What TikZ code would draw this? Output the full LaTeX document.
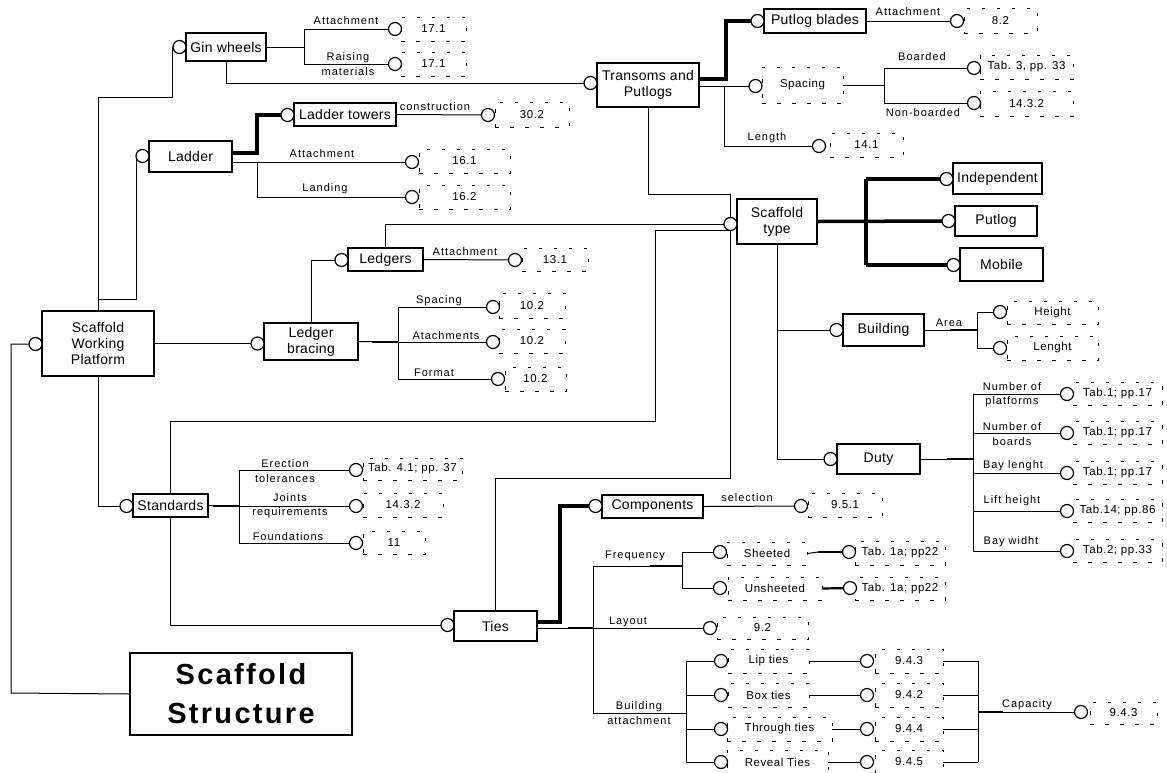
\documentclass[tikz,border=0pt]{standalone}
\usepackage{fontspec}
\setmainfont{Liberation Sans}
\newfontfamily\bxfont[LetterSpace=2]{Liberation Sans}
\newfontfamily\lbfont[LetterSpace=9]{Liberation Sans}
\newfontfamily\rffont[LetterSpace=5]{Liberation Sans}
\newfontfamily\bigfont[LetterSpace=8]{Liberation Sans}
\tikzset{
 bx/.style={draw, line width=1.2pt, inner sep=0pt, align=center, font=\bxfont\fontsize{14}{16}\selectfont},
 rf/.style={draw, line width=0.9pt, dash pattern=on 3.5pt off 11.5pt, inner sep=0pt, align=center, font=\rffont\fontsize{11.5}{14}\selectfont},
 port/.style={circle, draw, line width=1.2pt, minimum size=13pt, inner sep=0pt, fill=white},
 lb/.style={inner sep=0pt, align=center, font=\lbfont\fontsize{11}{14.5}\selectfont},
 cn/.style={line width=1pt},
 md/.style={line width=2.2pt},
 tk/.style={line width=3.5pt},
}
\begin{document}
\begin{tikzpicture}[x=1pt,y=-1pt]
\fill[white] (0,0) rectangle (1167,772);
\useasboundingbox (0,0) rectangle (1167,772);

% ---------------- solid boxes ----------------
\node[bx,minimum width=80pt,minimum height=28pt] (gin) at (226,47) {Gin wheels};
\node[bx,minimum width=102pt,minimum height=44pt] (trans) at (648,85) {Transoms and\\Putlogs};
\node[bx,minimum width=102pt,minimum height=23pt] (ltow) at (345,114.5) {Ladder towers};
\node[bx,minimum width=83pt,minimum height=31pt] (ladder) at (190.5,156.5) {Ladder};
\node[bx,minimum width=102pt,minimum height=24pt] (putb) at (815,21) {Putlog blades};
\node[bx,minimum width=80pt,minimum height=45pt] (stype) at (777,221.5) {Scaffold\\type};
\node[bx,minimum width=89pt,minimum height=31pt] (indep) at (997.5,178.5) {Independent};
\node[bx,minimum width=82pt,minimum height=30pt] (putlog) at (996,221) {Putlog};
\node[bx,minimum width=83pt,minimum height=33pt] (mobile) at (1001.5,264.5) {Mobile};
\node[bx,minimum width=81pt,minimum height=32pt] (bldg) at (883.5,330) {Building};
\node[bx,minimum width=83pt,minimum height=30pt] (duty) at (878.5,459) {Duty};
\node[bx,minimum width=75pt,minimum height=23pt] (ledgers) at (385.5,259.5) {Ledgers};
\node[bx,minimum width=94pt,minimum height=37pt] (lbrace) at (311,341.5) {Ledger\\bracing};
\node[bx,minimum width=112pt,minimum height=65pt] (swp) at (98,343.5) {Scaffold\\Working\\Platform};
\node[bx,minimum width=75pt,minimum height=23pt] (std) at (170.5,505.5) {Standards};
\node[bx,minimum width=222pt,minimum height=82pt,font=\bigfont\bfseries\fontsize{29}{39}\selectfont] (ss) at (241,694) {Scaffold\\Structure};
\node[bx,minimum width=83pt,minimum height=30pt] (ties) at (495.5,626) {Ties};
\node[bx,minimum width=101pt,minimum height=23pt] (comp) at (652.5,506.5) {Components};

% ---------------- dashed reference boxes ----------------
\node[rf,minimum width=65pt,minimum height=24pt] (r17a) at (433.5,29) {17.1};
\node[rf,minimum width=65pt,minimum height=24pt] (r17b) at (433.5,64) {17.1};
\node[rf,minimum width=74pt,minimum height=25pt] (r30) at (532,114.5) {30.2};
\node[rf,minimum width=91pt,minimum height=24pt] (r161) at (464.5,161) {16.1};
\node[rf,minimum width=91pt,minimum height=24pt] (r162) at (464.5,197) {16.2};
\node[rf,minimum width=73pt,minimum height=25pt] (r82) at (1000.5,20.5) {8.2};
\node[rf,minimum width=81pt,minimum height=36pt] (rspac) at (802.5,85) {Spacing};
\node[rf,minimum width=93pt,minimum height=24pt] (rtab3) at (1026.5,67) {Tab. 3, pp. 33};
\node[rf,minimum width=93pt,minimum height=25pt] (r1432a) at (1026.5,103.5) {14.3.2};
\node[rf,minimum width=73pt,minimum height=24pt] (r141) at (866.5,145) {14.1};
\node[rf,minimum width=66pt,minimum height=23pt] (r131) at (555,259.5) {13.1};
\node[rf,minimum width=66pt,minimum height=25pt] (r102a) at (532,305.5) {10.2};
\node[rf,minimum width=66pt,minimum height=24pt] (r102b) at (532,341) {10.2};
\node[rf,minimum width=61pt,minimum height=24pt] (r102c) at (535.5,379) {10.2};
\node[rf,minimum width=91pt,minimum height=23pt] (rheight) at (1052.5,312.5) {Height};
\node[rf,minimum width=91pt,minimum height=24pt] (rlenght) at (1052.5,348) {Lenght};
\node[rf,minimum width=89pt,minimum height=23pt] (rd1) at (1117.5,394) {Tab.1; pp.17};
\node[rf,minimum width=89pt,minimum height=23pt] (rd2) at (1117.5,433) {Tab.1; pp.17};
\node[rf,minimum width=89pt,minimum height=23pt] (rd3) at (1117.5,473) {Tab.1; pp.17};
\node[rf,minimum width=89pt,minimum height=23pt] (rd4) at (1117.5,511) {Tab.14; pp.86};
\node[rf,minimum width=89pt,minimum height=23pt] (rd5) at (1117.5,551) {Tab.2; pp.33};
\node[rf,minimum width=99pt,minimum height=22pt] (rtab41) at (412.5,469) {Tab. 4.1; pp. 37};
\node[rf,minimum width=80pt,minimum height=24pt] (r1432b) at (403,505) {14.3.2};
\node[rf,minimum width=62pt,minimum height=23pt] (r11) at (394,542.5) {11};
\node[rf,minimum width=74pt,minimum height=24pt] (r951) at (845,505) {9.5.1};
\node[rf,minimum width=80pt,minimum height=23pt] (rsheet) at (767,553.5) {Sheeted};
\node[rf,minimum width=90pt,minimum height=24pt] (rtab1a) at (900,553) {Tab. 1a; pp22};
\node[rf,minimum width=94pt,minimum height=23pt] (runsheet) at (775,588.5) {Unsheeted};
\node[rf,minimum width=90pt,minimum height=23pt] (rtab1b) at (900,588.5) {Tab. 1a; pp22};
\node[rf,minimum width=91pt,minimum height=22pt] (r92) at (762.5,628) {9.2};
\node[rf,minimum width=81pt,minimum height=24pt] (rlip) at (768.5,661) {Lip ties};
\node[rf,minimum width=81pt,minimum height=24pt] (rbox) at (768.5,695) {Box ties};
\node[rf,minimum width=105pt,minimum height=24pt] (rthrough) at (779.5,729) {Through ties};
\node[rf,minimum width=101pt,minimum height=24pt] (rreveal) at (777.5,762) {Reveal Ties};
\node[rf,minimum width=68pt,minimum height=24pt] (r943a) at (909,661) {9.4.3};
\node[rf,minimum width=68pt,minimum height=24pt] (r942) at (909,695) {9.4.2};
\node[rf,minimum width=68pt,minimum height=24pt] (r944) at (909,729) {9.4.4};
\node[rf,minimum width=68pt,minimum height=24pt] (r945) at (909,762) {9.4.5};
\node[rf,minimum width=67pt,minimum height=22pt] (r943b) at (1123.5,713) {9.4.3};

% ---------------- connectors ----------------
\draw[cn] (swp.north) -- (98,97) -- (172.5,97) -- (172.5,47);
\draw[cn] (136,156) -- (136,299) -- (98,299);
\draw[cn] (gin.east) -- (304,47);
\draw[cn] (304,29) -- (304,64);
\draw[cn] (304,29) -- (395,29);
\draw[cn] (304,64) -- (395,64);
\draw[cn] (gin.south) |- (590,83);
\draw[tk] ([yshift=3.5pt]ladder.east) -- (257,153) -- (257,115) -- (287,115);
\draw[cn] ([yshift=-5.5pt]ladder.east) -- (412,162);
\draw[cn] (257,162) |- (412,197);
\draw[cn] (ltow.east) -- (488,115);
\draw[tk] ([yshift=6pt]trans.east) -- (726,79) -- (726,21) -- (757,21);
\draw[cn] ([yshift=-1pt]trans.east) -- (755,86);
\draw[cn] (724,86) |- (819,146);
\draw[cn] (putb.east) -- (957,21);
\draw[cn] (rspac.east) -- (884,85);
\draw[cn] (884,68) -- (884,103);
\draw[cn] (884,68) -- (974,68);
\draw[cn] (884,103) -- (974,103);
\draw[cn] (trans.south) -- (648,194) -- (730.5,194) -- (730.5,224);
\draw[cn] (ledgers.north) |- (730.5,224);
\draw[cn] (std.north) |- (655,421) |- (730.5,230.5);
\draw[cn] (ties.north) |- (730.5,478) -- (730.5,224);
\draw[tk] (stype.east) -- (948,221);
\draw[tk] (866,179) -- (866,265);
\draw[tk] (866,179) -- (946,179);
\draw[tk] (866,265) -- (953,265);
\draw[cn] (stype.south) |- (830,459);
\draw[cn] (777,330) -- (836,330);
\draw[cn] (bldg.east) -- (977,330);
\draw[md] (950,330) -- (977,330);
\draw[cn] (977,312) -- (977,348);
\draw[cn] (977,312) -- (1000,312);
\draw[cn] (977,348) -- (1000,348);
\draw[cn] (duty.east) -- (973,459);
\draw[md] (947,459) -- (973,459);
\draw[cn] (973,394) -- (973,551);
\foreach \yy in {394,433,473,511,551} \draw[cn] (973,\yy) -- (1067,\yy);
\draw[cn] (ledgers.east) -- (515,260);
\draw[cn] (lbrace.north) |- (341,260);
\draw[cn] (swp.east) -- (257,343.5);
\draw[cn] (lbrace.east) -- (398,342);
\draw[md] (372,342) -- (398,342);
\draw[cn] (398,307) -- (398,379);
\draw[cn] (398,307) -- (493,307);
\draw[cn] (398,342) -- (493,342);
\draw[cn] (398,379) -- (498,379);
\draw[cn] (35,344) -- (11,344) -- (11,693) -- (ss.west);
\draw[cn] (swp.south) |- (126,506);
\draw[cn] (std.east) -- (239,506);
\draw[md] (213,506) -- (239,506);
\draw[cn] (239,470) -- (239,543);
\draw[cn] (239,470) -- (356,470);
\draw[cn] (239,506) -- (356,506);
\draw[cn] (239,543) -- (356,543);
\draw[cn] (std.south) |- (447,625);
\draw[tk] ([yshift=4pt]ties.east) -- (560,622) -- (560,506) -- (595,506);
\draw[cn] (comp.east) -- (801,506);
\draw[cn] ([yshift=-2pt]ties.east) -- (710,628);
\draw[md] (568,628) -- (593,628);
\draw[cn] (593,566) -- (593,713);
\draw[cn] (593,566) -- (682,566);
\draw[md] (650,566) -- (682,566);
\draw[cn] (682,552) -- (682,588);
\draw[cn] (682,552) -- (720,552);
\draw[cn] (682,588) -- (720,588);
\draw[md] (818,552) -- (849,552);
\draw[cn] (rsheet.east) -- (818,552);
\draw[md] (runsheet.east) -- (850,588);
\draw[cn] (593,713) -- (686,713);
\draw[cn] (686,661) -- (686,762);
\foreach \yy in {661,695,729,762} \draw[cn] (686,\yy) -- (721,\yy);
\draw[cn] (rlip.east) -- (867,661);
\draw[cn] (rbox.east) -- (867,695);
\draw[cn] (rthrough.east) -- (867,729);
\draw[cn] (rreveal.east) -- (867,762);
\draw[cn] (r943a.east) -- (978,661);
\draw[cn] (r942.east) -- (978,695);
\draw[cn] (r944.east) -- (978,729);
\draw[cn] (r945.east) -- (978,762);
\draw[cn] (978,661) -- (978,762);
\draw[cn] (978,712) -- (1081,712);
\draw[md] (978,712) -- (1003,712);

% ---------------- ports (circles) ----------------
\foreach \nm/\px/\py in {pgin/179.5/47, p17a/395/29, p17b/395/64, ptrans/590.5/83,
 pltow/287.5/115, pladder/142.5/156, p30/488/115, p161/412/162, p162/412/197,
 pputb/757.5/21, pspac/755.5/86, p82/957/21, ptab3/974/68, p1432a/974/103, p141/819/146,
 pstype/730.5/224, pindep/946.5/179, pputlog/948.5/221, pmobile/953.5/265,
 pbldg/836.5/330, pheight/1000/312, plenght/1000/348, pduty/830.5/459,
 pd1/1067/394, pd2/1067/433, pd3/1067/473, pd4/1067/511, pd5/1067/551,
 pledgers/341.5/260, p131/515/260, plbrace/257.5/343.5, p102a/493/307, p102b/493/342, p102c/498/379,
 pswp/35.5/344, pstd/126.5/506, perect/356/470, pjoint/356/506, pfound/356/543,
 pties/447.5/625, pcomp/595.5/506, p951/801/506, psheet/720/552, punsheet/720/588,
 ptab1a/849/552, ptab1b/850/588, p92/710/628, plip/721/661, pboxt/721/695, pthrough/721/729, preveal/721/762,
 p943a/867/661, p942/867/695, p944/867/729, p945/867/762, pcap/1081/712}
 \node[port] (\nm) at (\px,\py) {};

% ---------------- labels ----------------
\node[lb] (l1) at (346,21) {Attachment};
\node[lb] (l2) at (348,64) {Raising\\materials};
\node[lb] (l3) at (322,154) {Attachment};
\node[lb] (l4) at (325,189) {Landing};
\node[lb] (l5) at (435,107) {construction};
\node[lb] (l6) at (908,12) {Attachment};
\node[lb] (l7) at (922,57) {Boarded};
\node[lb] (l8) at (923,113) {Non-boarded};
\node[lb] (l9) at (767,138) {Length};
\node[lb] (l10) at (949,323) {Area};
\node[lb] (l11) at (1012,394.5) {Number of\\platforms};
\node[lb] (l12) at (1012,434) {Number of\\boards};
\node[lb] (l13) at (1013,466) {Bay lenght};
\node[lb] (l14) at (1012,501) {Lift height};
\node[lb] (l15) at (1011,542) {Bay widht};
\node[lb] (l16) at (465,252) {Attachment};
\node[lb] (l17) at (439,301) {Spacing};
\node[lb] (l18) at (446,336) {Atachments};
\node[lb] (l19) at (434,373) {Format};
\node[lb] (l20) at (285,471) {Erection\\tolerances};
\node[lb] (l21) at (290,505.5) {Joints\\requirements};
\node[lb] (l22) at (288,537) {Foundations};
\node[lb] (l23) at (747,498) {selection};
\node[lb] (l24) at (635,556) {Frequency};
\node[lb] (l25) at (628,622) {Layout};
\node[lb] (l26) at (639,713) {Building\\attachment};
\node[lb] (l27) at (1027,705) {Capacity};
\end{tikzpicture}
\end{document}
